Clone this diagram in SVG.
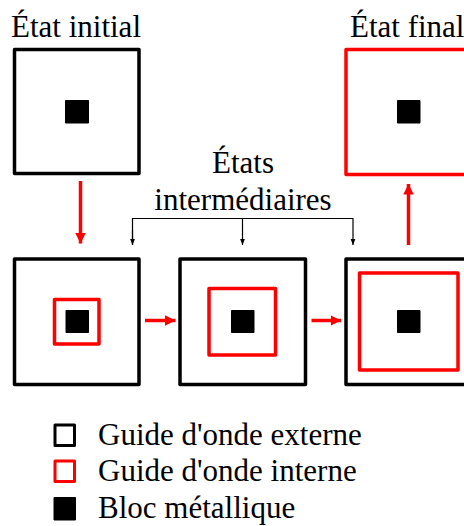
<svg xmlns="http://www.w3.org/2000/svg" width="464" height="526" viewBox="0 0 464 526">
<defs>
<style>
.outer{fill:#fff;stroke:#000;stroke-width:3.5;stroke-linejoin:round}
.inner{fill:none;stroke:#ff0000;stroke-width:3.5;stroke-linejoin:round}
.finalbox{fill:#fff;stroke:#ff0000;stroke-width:3.5;stroke-linejoin:round}
.blk{fill:#000;stroke:#000;stroke-width:1;stroke-linejoin:round}
.t{font-family:"Liberation Serif","Times New Roman",serif;font-size:31px;fill:#000}
.rarrow{stroke:#ff0000;stroke-width:3.5;fill:none}
.thin{stroke:#000;stroke-width:1.2;fill:none}
</style>
<marker id="rh" viewBox="0 0 10 10" refX="10" refY="5" markerWidth="3" markerHeight="3" orient="auto" markerUnits="strokeWidth">
<path d="M0,0 L10,5 L0,10 Z" fill="#ff0000"/>
</marker>
<marker id="bh" viewBox="0 0 10 10" refX="10" refY="5" markerWidth="5" markerHeight="5" orient="auto" markerUnits="strokeWidth">
<path d="M0,1 L10,5 L0,9 Z" fill="#000"/>
</marker>
</defs>
<rect width="464" height="526" fill="#fff"/>

<g id="initial">
<text class="t" x="11" y="37">État initial</text>
<rect class="outer" x="14.5" y="49.5" width="124.5" height="124"/>
<rect class="blk" x="65.5" y="100.5" width="23" height="22.5"/>
</g>

<g id="final">
<text class="t" x="350" y="37">État final</text>
<rect class="finalbox" x="346" y="49.5" width="125" height="125"/>
<rect class="blk" x="397.5" y="100.5" width="22.5" height="22.5"/>
</g>

<g id="intermediates-label">
<text class="t" x="243" y="173" text-anchor="middle">États</text>
<text class="t" x="243" y="210" text-anchor="middle">intermédiaires</text>
</g>

<g id="step1">
<rect class="outer" x="14.5" y="259" width="124.5" height="125.5"/>
<rect class="inner" x="54.5" y="299.5" width="44.5" height="44.5"/>
<rect class="blk" x="66" y="310.5" width="22.5" height="22"/>
</g>

<g id="step2">
<rect class="outer" x="180" y="259" width="125.5" height="125.5"/>
<rect class="inner" x="209" y="288.5" width="66.5" height="66.5"/>
<rect class="blk" x="231.5" y="310.5" width="22.5" height="22"/>
</g>

<g id="step3">
<rect class="outer" x="346" y="259" width="125" height="125.5"/>
<rect class="inner" x="359.5" y="273" width="98.5" height="97"/>
<rect class="blk" x="397.5" y="310.5" width="22.5" height="22"/>
</g>

<g id="connectors">
<line class="rarrow" x1="80.5" y1="181" x2="80.5" y2="243.5" marker-end="url(#rh)"/>
<line class="rarrow" x1="408.5" y1="245" x2="408.5" y2="184" marker-end="url(#rh)"/>
<line class="rarrow" x1="145" y1="320.5" x2="175.5" y2="320.5" marker-end="url(#rh)"/>
<line class="rarrow" x1="311.5" y1="320.5" x2="341" y2="320.5" marker-end="url(#rh)"/>
<polyline class="thin" points="132.5,245 132.5,218.5 353,218.5 353,245" marker-end="url(#bh)"/>
<line class="thin" x1="132.5" y1="230" x2="132.5" y2="245" marker-end="url(#bh)"/>
<line class="thin" x1="242.5" y1="218.5" x2="242.5" y2="245" marker-end="url(#bh)"/>
</g>

<g id="legend">
<rect x="55" y="425" width="19.5" height="20.5" fill="none" stroke="#000" stroke-width="3" stroke-linejoin="round"/>
<rect x="55" y="461" width="19.5" height="20.5" fill="none" stroke="#ff0000" stroke-width="3" stroke-linejoin="round"/>
<rect x="54" y="497.5" width="21.5" height="22.5" fill="#000" stroke="#000" stroke-width="1" stroke-linejoin="round"/>
<text class="t" x="98" y="445">Guide d'onde externe</text>
<text class="t" x="98" y="481">Guide d'onde interne</text>
<text class="t" x="98" y="518">Bloc métallique</text>
</g>
</svg>
